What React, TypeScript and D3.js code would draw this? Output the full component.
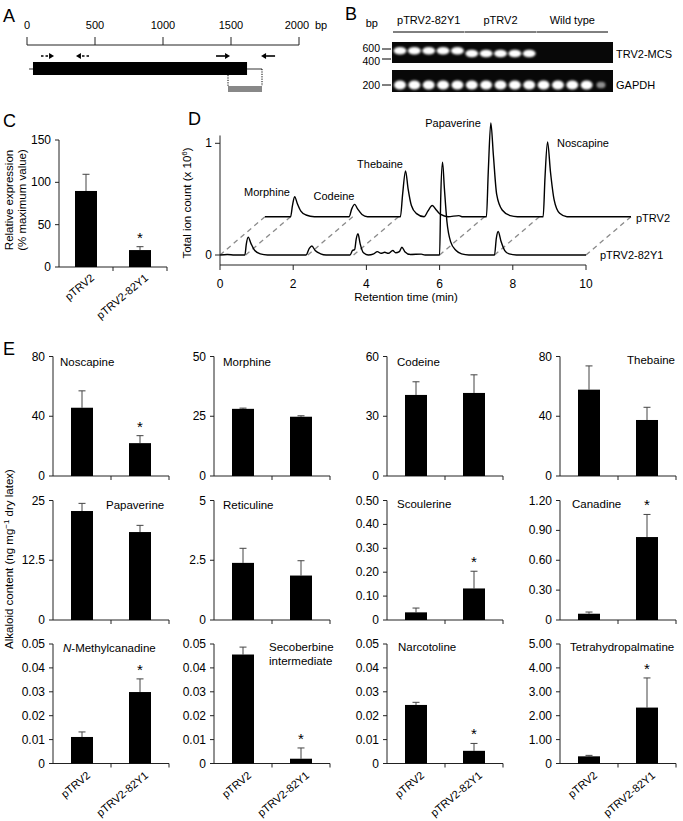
import React from 'react';
import * as d3 from 'd3';

const FONT = "'Liberation Sans', Arial, Helvetica, sans-serif";

// ---------------- Panel A : gene model ----------------
const bpTicks = [0, 500, 1000, 1500, 2000];
const cdsSpan = [44, 1618];
const utrSpan = [15, 1728];
const vigsSpan = [1478, 1728];
const primerFrom = [103, 456, 1390, 1824];
const primerTo = [199, 360, 1493, 1721];
const primerDashed = [true, true, false, false];

// ---------------- Panel B : gels ----------------
const gelGroups = ['pTRV2-82Y1', 'pTRV2', 'Wild type'];
const laneGroup = [0, 0, 0, 0, 0, 1, 1, 1, 1, 1, 2, 2, 2, 2, 2];
const mcsBandBp = [560, 560, 560, 560, 560, 500, 500, 500, 500, 500, 0, 0, 0, 0, 0];
const gapdhBandBp = [200, 200, 200, 200, 200, 200, 200, 200, 200, 200, 200, 200, 200, 200, 200];
const gapdhIntensity = [1, 1, 1, 1, 1, 1, 1, 1, 1, 1, 1, 1, 1, 1, 0.55];
const markerTopBp = [600, 400];
const markerBottomBp = [200];

// ---------------- Panel C : relative expression ----------------
const constructs = ['pTRV2', 'pTRV2-82Y1'];
const relExpression = [89.8, 20];
const relExpressionErr = [19.7, 4];
const relTicks = [0, 50, 100, 150];

// ---------------- Panel D : chromatograms ----------------
const controlTrace: [number, number][] = [
  [0, 0], [0.7, 0], [0.75, 0.1], [0.81, 0.18], [0.88, 0.12], [0.98, 0.05], [1.12, 0.015], [1.35, 0],
  [2.3, 0], [2.37, 0.07], [2.45, 0.11], [2.53, 0.07], [2.65, 0.02], [2.8, 0],
  [3.7, 0], [3.76, 0.2], [3.84, 0.41], [3.91, 0.25], [4.0, 0.1], [4.13, 0.03], [4.35, 0],
  [4.45, 0.05], [4.57, 0.1], [4.68, 0.06], [4.8, 0.02], [5.0, 0], [5.3, 0.01], [5.38, 0],
  [6.05, 0], [6.1, 0.4], [6.17, 0.84], [6.24, 0.55], [6.33, 0.2], [6.48, 0.06], [6.7, 0.01], [6.9, 0],
  [7.6, 0], [7.65, 0.35], [7.72, 0.67], [7.8, 0.4], [7.9, 0.15], [8.05, 0.03], [8.25, 0], [10, 0],
];
const silencedTrace: [number, number][] = [
  [0, 0], [0.2, 0.005], [0.4, 0], [0.68, 0], [0.72, 0.1], [0.77, 0.16], [0.85, 0.1], [0.95, 0.04], [1.1, 0.01], [1.3, 0],
  [2.35, 0], [2.44, 0.06], [2.51, 0.08], [2.6, 0.04], [2.75, 0.01], [2.9, 0],
  [3.55, 0], [3.62, 0.04], [3.68, 0.05], [3.72, 0.14], [3.77, 0.19], [3.83, 0.1], [3.92, 0.02], [4.05, 0],
  [4.2, 0.01], [4.3, 0.03], [4.4, 0.015], [4.5, 0.025], [4.6, 0.015], [4.72, 0.04], [4.8, 0.02], [4.9, 0.03],
  [4.97, 0.07], [5.05, 0.03], [5.2, 0.005], [5.5, 0.008], [5.6, 0],
  [6.0, 0], [6.03, 0.5], [6.08, 0.83], [6.13, 0.6], [6.2, 0.3], [6.3, 0.12], [6.45, 0.04], [6.6, 0.01], [6.8, 0],
  [7.5, 0], [7.55, 0.15], [7.6, 0.21], [7.68, 0.12], [7.78, 0.04], [7.9, 0.01], [8.1, 0], [10, 0],
];
const linkTimes = [0, 0.7, 2.4, 3.65, 6.0, 7.5, 10];
const rtTicks = [0, 2, 4, 6, 8, 10];
const ionTicks = [0, 1];
const peakNames = ['Morphine', 'Codeine', 'Thebaine', 'Papaverine', 'Noscapine'];
const traceNames = ['pTRV2', 'pTRV2-82Y1'];

// ---------------- Panel E : alkaloid content ----------------
const alkaloids = ['Noscapine', 'Morphine', 'Codeine', 'Thebaine', 'Papaverine', 'Reticuline',
  'Scoulerine', 'Canadine', 'N-Methylcanadine', 'Secoberbine intermediate', 'Narcotoline', 'Tetrahydropalmatine'];
const meanControl = [45.7, 28.1, 40.7, 57.8, 22.8, 2.39, 0.032, 0.063, 0.0111, 0.0456, 0.0245, 0.30];
const errControl = [11.3, 0.3, 6.6, 15.9, 1.6, 0.61, 0.018, 0.017, 0.0021, 0.0031, 0.0011, 0.04];
const meanSilenced = [22.0, 24.8, 41.7, 37.5, 18.4, 1.86, 0.132, 0.833, 0.0299, 0.002, 0.0053, 2.34];
const errSilenced = [5.0, 0.4, 9.1, 8.5, 1.4, 0.62, 0.072, 0.227, 0.0055, 0.0045, 0.0031, 1.24];
const axisMax = [80, 50, 60, 80, 25, 5, 0.5, 1.2, 0.05, 0.05, 0.05, 5];
const tickStep = [40, 25, 30, 40, 12.5, 2.5, 0.1, 0.3, 0.01, 0.01, 0.01, 1];
const tickDecimals = [0, 0, 0, 0, -1, -1, 2, 2, 2, 2, 2, 2];
const significant = [true, false, false, false, false, false, true, true, true, true, true, true];

// ---------------- layout (not data) ----------------
const colX = [53, 214, 387, 560];
const rowZero = [476, 620, 763.5];
const chartH = 119.5;
const chartW = 116;
const titleLayout: { dx: number; y: number; anchor: string }[] = [
  { dx: 7, y: 366, anchor: 'start' }, { dx: 9, y: 366, anchor: 'start' },
  { dx: 10, y: 366, anchor: 'start' }, { dx: 115, y: 364, anchor: 'end' },
  { dx: 53, y: 509, anchor: 'start' }, { dx: 9, y: 509, anchor: 'start' },
  { dx: 10, y: 508, anchor: 'start' }, { dx: 12, y: 508, anchor: 'start' },
  { dx: 10, y: 652, anchor: 'start' }, { dx: 55, y: 651, anchor: 'start' },
  { dx: 11, y: 651, anchor: 'start' }, { dx: 10, y: 651, anchor: 'start' },
];

const AX = '#222';
const ERR = '#444';

function Arrow({ x1, x2, y, dashed }: { x1: number; x2: number; y: number; dashed: boolean }) {
  const dir = x2 > x1 ? 1 : -1;
  const head = 5;
  return (
    <g>
      <line x1={x1} x2={x2 - dir * head} y1={y} y2={y} stroke="#000" strokeWidth={1.6}
        strokeDasharray={dashed ? '2.5,2' : undefined} />
      <polygon points={`${x2},${y} ${x2 - dir * head},${y - 3} ${x2 - dir * head},${y + 3}`} fill="#000" />
    </g>
  );
}

function PanelA() {
  const x = d3.scaleLinear().domain([0, 2000]).range([27, 299]);
  const axisY = 45;
  return (
    <g>
      <text x={3} y={22} fontSize={18}>A</text>
      <line x1={x(0)} x2={x(2000)} y1={axisY} y2={axisY} stroke={AX} strokeWidth={1} />
      {bpTicks.map(t => (
        <g key={t}>
          <line x1={x(t)} x2={x(t)} y1={axisY - 8} y2={axisY} stroke={AX} />
          <text x={x(t) - (t === 2000 ? 2 : 0)} y={29} textAnchor="middle" fontSize={11}>{t}</text>
        </g>
      ))}
      <text x={315} y={29} fontSize={11}>bp</text>
      {primerFrom.map((f, i) => (
        <Arrow key={i} x1={x(f)} x2={x(primerTo[i])} y={56} dashed={primerDashed[i]} />
      ))}
      <line x1={x(utrSpan[0])} x2={x(cdsSpan[0])} y1={69} y2={69} stroke="#999" strokeWidth={2} />
      <line x1={x(cdsSpan[1])} x2={x(utrSpan[1])} y1={69} y2={69} stroke="#999" strokeWidth={2} />
      <rect x={x(cdsSpan[0])} y={62} width={x(cdsSpan[1]) - x(cdsSpan[0])} height={13} fill="#000" />
      <line x1={x(vigsSpan[0])} x2={x(vigsSpan[0])} y1={75} y2={86} stroke="#000" strokeDasharray="1.2,1.2" />
      <line x1={x(vigsSpan[1])} x2={x(vigsSpan[1])} y1={69} y2={86} stroke="#000" strokeDasharray="1.2,1.2" />
      <rect x={x(vigsSpan[0])} y={86} width={x(vigsSpan[1]) - x(vigsSpan[0])} height={6} fill="#888" />
    </g>
  );
}

function PanelB() {
  const lanes = d3.range(laneGroup.length);
  const lx = d3.scalePoint<number>().domain(lanes).range([400, 601]);
  const y1 = d3.scaleLog().domain([400, 600]).range([59, 49]);
  const y2 = d3.scaleLog().domain([200, 400]).range([85, 68]);
  return (
    <g>
      <text x={345} y={20} fontSize={18}>B</text>
      <text x={378} y={27} textAnchor="end" fontSize={11}>bp</text>
      {gelGroups.map((g, gi) => {
        const ls = lanes.filter(l => laneGroup[l] === gi);
        const a = lx(ls[0])! - 7, b = lx(ls[ls.length - 1])! + 7;
        return (
          <g key={g}>
            <line x1={a} x2={b} y1={32} y2={32} stroke="#000" strokeWidth={1} />
            <text x={(a + b) / 2} y={24} textAnchor="middle" fontSize={11}>{g}</text>
          </g>
        );
      })}
      <rect x={392} y={42} width={221} height={21} fill="#080808" />
      <rect x={392} y={70} width={221} height={22} fill="#080808" />
      <g filter="url(#blur)">
        {lanes.map(l => mcsBandBp[l] > 0 ? (
          <ellipse key={'m' + l} cx={lx(l)} cy={y1(mcsBandBp[l])} rx={6.4} ry={3.8} fill="#fff" />
        ) : null)}
        {lanes.map(l => (
          <ellipse key={'g' + l} cx={lx(l)} cy={y2(gapdhBandBp[l])} rx={gapdhIntensity[l] < 1 ? 4.5 : 6} ry={gapdhIntensity[l] < 1 ? 3.2 : 4.5}
            fill="#fff" opacity={gapdhIntensity[l]} />
        ))}
      </g>
      {markerTopBp.map((m, k) => (
        <g key={m}>
          <line x1={382} x2={391} y1={y1(m)} y2={y1(m)} stroke="#000" />
          <text x={380} y={y1(m) + (k === 0 ? 2.5 : 5.5)} textAnchor="end" fontSize={10.5}>{m}</text>
        </g>
      ))}
      {markerBottomBp.map(m => (
        <g key={m}>
          <line x1={382} x2={391} y1={y2(m)} y2={y2(m)} stroke="#000" />
          <text x={380} y={y2(m) + 4} textAnchor="end" fontSize={10.5}>{m}</text>
        </g>
      ))}
      <text x={616} y={58} fontSize={11}>TRV2-MCS</text>
      <text x={616} y={89} fontSize={11}>GAPDH</text>
    </g>
  );
}

function RotLabels({ x, zeroY, dy }: { x: d3.ScaleBand<string>; zeroY: number; dy: number }) {
  return (
    <g>
      {constructs.map(c => {
        const cx = x(c)! + x.bandwidth() / 2;
        return (
          <text key={c} transform={`translate(${cx + 9},${zeroY + dy}) rotate(-40)`} textAnchor="end" fontSize={11}>{c}</text>
        );
      })}
    </g>
  );
}

function Asterisk({ cx, top }: { cx: number; top: number }) {
  return <text x={cx} y={top - 4} textAnchor="middle" fontSize={15}>*</text>;
}

function PanelC() {
  const y = d3.scaleLinear().domain([0, 150]).range([267, 140]);
  const x = d3.scaleBand().domain(constructs).range([59, 167]);
  const bw = 22;
  return (
    <g>
      <text x={3} y={127} fontSize={18}>C</text>
      <line x1={59} x2={59} y1={y(150)} y2={y(0)} stroke={AX} />
      {relTicks.map(t => (
        <g key={t}>
          <line x1={55} x2={59} y1={y(t)} y2={y(t)} stroke={AX} />
          <text x={51} y={y(t) + 4} textAnchor="end" fontSize={12}>{t}</text>
        </g>
      ))}
      <line x1={59} x2={167} y1={y(0)} y2={y(0)} stroke={AX} />
      {[x(constructs[1])!, 167].map((t, i) => (
        <line key={i} x1={t} x2={t} y1={y(0)} y2={y(0) + 4} stroke={AX} />
      ))}
      {constructs.map((c, i) => {
        const cx = x(c)! + x.bandwidth() / 2;
        const top = y(relExpression[i] + relExpressionErr[i]);
        return (
          <g key={c}>
            <line x1={cx} x2={cx} y1={y(relExpression[i])} y2={top} stroke={ERR} />
            <line x1={cx - 3.5} x2={cx + 3.5} y1={top} y2={top} stroke={ERR} />
            <rect x={cx - bw / 2} y={y(relExpression[i])} width={bw} height={y(0) - y(relExpression[i])} fill="#000" />
            {i === 1 && <Asterisk cx={cx} top={top} />}
          </g>
        );
      })}
      <RotLabels x={x} zeroY={y(0)} dy={12} />
      <text transform="translate(13,200) rotate(-90)" textAnchor="middle" fontSize={11.5}>Relative expression</text>
      <text transform="translate(26,200) rotate(-90)" textAnchor="middle" fontSize={11.5}>(% maximum value)</text>
    </g>
  );
}

function PanelD() {
  const x = d3.scaleLinear().domain([0, 10]).range([220, 586]);
  const y = d3.scaleLinear().domain([0, 1]).range([255, 143.3]);
  const dx = 45, dy = -38.3;
  const line = d3.line<[number, number]>().x(d => x(d[0])).y(d => y(d[1])).curve(d3.curveMonotoneX);
  const axisY = 265;
  return (
    <g>
      <text x={188} y={125} fontSize={18}>D</text>
      {linkTimes.map(t => (
        <line key={t} x1={x(t)} y1={y(0)} x2={x(t) + dx} y2={y(0) + dy} stroke="#8a8a8a" strokeWidth={1.3} strokeDasharray="5,4" />
      ))}
      <path d={line(controlTrace) || ''} transform={`translate(${dx},${dy})`} fill="none" stroke="#000" strokeWidth={1.4} />
      <path d={line(silencedTrace) || ''} fill="none" stroke="#000" strokeWidth={1.4} />
      <line x1={x(0)} x2={x(0)} y1={y(1.07)} y2={axisY} stroke={AX} />
      {ionTicks.map(t => (
        <g key={t}>
          <line x1={x(0) - 5} x2={x(0)} y1={y(t)} y2={y(t)} stroke={AX} />
          <text x={212} y={y(t) + 4} textAnchor="end" fontSize={12}>{t}</text>
        </g>
      ))}
      <line x1={x(0)} x2={x(10)} y1={axisY} y2={axisY} stroke={AX} />
      {rtTicks.map(t => (
        <g key={t}>
          <line x1={x(t)} x2={x(t)} y1={axisY} y2={axisY + 5} stroke={AX} />
          <text x={x(t)} y={288} textAnchor="middle" fontSize={12}>{t}</text>
        </g>
      ))}
      <text x={406} y={301} textAnchor="middle" fontSize={11.5}>Retention time (min)</text>
      <text transform="translate(191,203) rotate(-90)" textAnchor="middle" fontSize={11.5}>
        Total ion count (x 10<tspan dy={-4} fontSize={8}>6</tspan><tspan dy={4}>)</tspan>
      </text>
      <text x={267} y={196} textAnchor="middle" fontSize={11}>{peakNames[0]}</text>
      <text x={334} y={200} textAnchor="middle" fontSize={11}>{peakNames[1]}</text>
      <text x={380} y={168} textAnchor="middle" fontSize={11}>{peakNames[2]}</text>
      <text x={453} y={127} textAnchor="middle" fontSize={11}>{peakNames[3]}</text>
      <text x={583} y={147} textAnchor="middle" fontSize={11}>{peakNames[4]}</text>
      <text x={636} y={222} fontSize={11}>{traceNames[0]}</text>
      <text x={600} y={259} fontSize={11}>{traceNames[1]}</text>
    </g>
  );
}

function fmtTick(v: number, dec: number) {
  if (Math.abs(v) < 1e-12) return '0';
  if (dec < 0) return String(+v.toFixed(2));
  return v.toFixed(dec);
}

function BarChart({ i }: { i: number }) {
  const col = i % 4, row = Math.floor(i / 4);
  const x0 = colX[col], zeroY = rowZero[row];
  const y = d3.scaleLinear().domain([0, axisMax[i]]).range([zeroY, zeroY - chartH]);
  const x = d3.scaleBand().domain(constructs).range([x0, x0 + chartW]);
  const ticks = d3.range(0, axisMax[i] + tickStep[i] / 2, tickStep[i]);
  const means = [meanControl[i], meanSilenced[i]];
  const errs = [errControl[i], errSilenced[i]];
  const bw = 22;
  const tl = titleLayout[i];
  const name = alkaloids[i];
  let title: React.ReactNode;
  if (name.startsWith('N-')) {
    title = (
      <text x={x0 + tl.dx} y={tl.y} textAnchor={tl.anchor as any} fontSize={11.5}>
        <tspan fontStyle="italic">N</tspan>{name.slice(1)}
      </text>
    );
  } else if (name.includes(' ')) {
    const parts = name.split(' ');
    title = (
      <text x={x0 + tl.dx} y={tl.y} textAnchor={tl.anchor as any} fontSize={11.5}>
        <tspan x={x0 + tl.dx}>{parts[0]}</tspan>
        <tspan x={x0 + tl.dx} dy={14}>{parts[1]}</tspan>
      </text>
    );
  } else {
    title = <text x={x0 + tl.dx} y={tl.y} textAnchor={tl.anchor as any} fontSize={11.5}>{name}</text>;
  }
  return (
    <g>
      <line x1={x0} x2={x0} y1={y(axisMax[i])} y2={zeroY} stroke={AX} />
      {ticks.map(t => (
        <g key={t}>
          <line x1={x0 - 4} x2={x0} y1={y(t)} y2={y(t)} stroke={AX} />
          <text x={x0 - 8} y={y(t) + 4} textAnchor="end" fontSize={12}>{fmtTick(t, tickDecimals[i])}</text>
        </g>
      ))}
      <line x1={x0} x2={x0 + chartW} y1={zeroY} y2={zeroY} stroke={AX} />
      {[x(constructs[1])!, x0 + chartW].map((t, k) => (
        <line key={k} x1={t} x2={t} y1={zeroY} y2={zeroY + 4} stroke={AX} />
      ))}
      {constructs.map((c, k) => {
        const cx = x(c)! + x.bandwidth() / 2;
        const top = y(means[k] + errs[k]);
        return (
          <g key={c}>
            <line x1={cx} x2={cx} y1={y(means[k])} y2={top} stroke={ERR} />
            <line x1={cx - 3.5} x2={cx + 3.5} y1={top} y2={top} stroke={ERR} />
            <rect x={cx - bw / 2} y={y(means[k])} width={bw} height={zeroY - y(means[k])} fill="#000" />
            {k === 1 && significant[i] && <Asterisk cx={cx} top={top} />}
          </g>
        );
      })}
      {title}
      {row === 2 && <RotLabels x={x} zeroY={zeroY} dy={13} />}
    </g>
  );
}

function PanelE() {
  return (
    <g>
      <text x={3} y={355} fontSize={18}>E</text>
      {alkaloids.map((_, i) => <BarChart key={i} i={i} />)}
      <text transform="translate(13,559) rotate(-90)" textAnchor="middle" fontSize={11.5}>
        Alkaloid content (ng mg<tspan dy={-4} fontSize={8}>−1</tspan><tspan dy={4}> dry latex)</tspan>
      </text>
    </g>
  );
}

export default function App() {
  const W = 683, H = 821;
  return (
    <svg width={W} height={H} viewBox={`0 0 ${W} ${H}`} fontFamily={FONT}
      style={{ position: 'absolute', left: 0, top: 0, background: '#fff' }}>
      <defs>
        <filter id="blur" x="-50%" y="-50%" width="200%" height="200%">
          <feGaussianBlur stdDeviation="1.3" />
        </filter>
      </defs>
      <PanelA />
      <PanelB />
      <PanelC />
      <PanelD />
      <PanelE />
    </svg>
  );
}
